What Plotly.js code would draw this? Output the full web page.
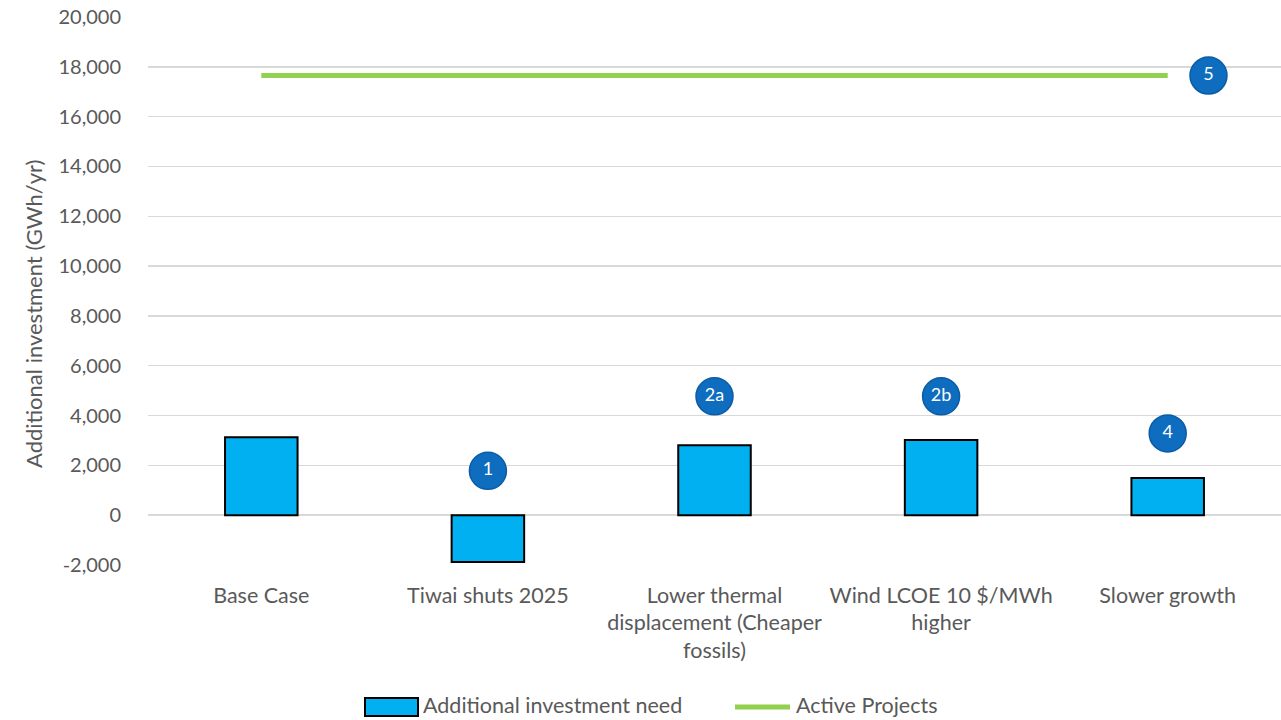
<!DOCTYPE html>
<html>
<head>
<meta charset="utf-8">
<script src="https://cdn.plot.ly/plotly-3.0.1.min.js"></script>
<style>
  html, body { margin: 0; padding: 0; background: #ffffff; }
  #chart { width: 1281px; height: 720px; }
</style>
</head>
<body>
<div id="chart"></div>
<script>
// Scenario categories (x positions 0..4)
const categories = [
  "Base Case",
  "Tiwai shuts 2025",
  "Lower thermal<br>displacement (Cheaper<br>fossils)",
  "Wind LCOE 10 $/MWh<br>higher",
  "Slower growth"
];
const categoryIndex = [0, 1, 2, 3, 4];

// Additional investment need per scenario (GWh/yr)
const investmentNeed = [3130, -1880, 2810, 3020, 1490];

// Active projects pipeline (GWh/yr)
const activeProjects = [17650, 17650, 17650, 17650, 17650];

// Numbered scenario badges
const badgeLabels = ["1", "2a", "2b", "4", "5"];
const badgeX = [1, 2, 3, 4, 4.18];
const badgeY = [1780, 4770, 4770, 3280, 17650];

// Y-axis ticks
const yTicks = [-2000, 0, 2000, 4000, 6000, 8000, 10000, 12000, 14000, 16000, 18000, 20000];
const yTickText = ["-2,000", "0", "2,000", "4,000", "6,000", "8,000", "10,000", "12,000", "14,000", "16,000", "18,000", "20,000"];

const fontFamily = "Lato, 'Open Sans', sans-serif";
const textGrey = "#595959";
const barFill = "#00B0F0";
const lineGreen = "#92D050";

const barTrace = {
  type: "bar",
  name: "Additional investment need",
  x: categoryIndex,
  y: investmentNeed,
  width: 0.32,
  marker: { color: barFill, line: { color: "#000000", width: 2 } },
  showlegend: false,
  hoverinfo: "y"
};
const lineTrace = {
  type: "scatter",
  mode: "lines",
  name: "Active Projects",
  x: categoryIndex,
  y: activeProjects,
  line: { color: lineGreen, width: 5 },
  showlegend: false,
  hoverinfo: "y"
};
const badgeTrace = {
  type: "scatter",
  mode: "markers+text",
  x: badgeX,
  y: badgeY,
  text: badgeLabels,
  textposition: "middle center",
  textfont: { color: "#ffffff", size: 18, family: fontFamily },
  marker: { size: 37, color: "#0E6DBE", line: { color: "#0A5CA6", width: 1.5 } },
  showlegend: false,
  hoverinfo: "skip"
};

// Plot area in pixels, used to place the legend below it
const plotLeft = 148, plotWidth = 1133, plotTop = 17, plotHeight = 548;
const px = (x) => (x - plotLeft) / plotWidth;
const py = (y) => (plotTop + plotHeight - y) / plotHeight;

// Legend drawn as shapes + text underneath the plot
const legendShapes = [
  {
    type: "rect", xref: "paper", yref: "paper",
    x0: px(365), x1: px(418), y0: py(698), y1: py(716),
    fillcolor: barFill, line: { color: "#000000", width: 2 }
  },
  {
    type: "line", xref: "paper", yref: "paper",
    x0: px(735), x1: px(790), y0: py(707), y1: py(707),
    line: { color: lineGreen, width: 5 }
  }
];
const legendLabels = [
  { text: barTrace.name, x: px(421), y: py(705) },
  { text: lineTrace.name, x: px(794), y: py(705) }
].map(l => ({
  xref: "paper", yref: "paper", x: l.x, y: l.y,
  xanchor: "left", yanchor: "middle", showarrow: false,
  text: l.text, font: { size: 21.5, color: textGrey, family: fontFamily }
}));

const yTitle = {
  xref: "paper", yref: "paper", x: px(33), y: py(314),
  xanchor: "center", yanchor: "middle", showarrow: false, textangle: -90,
  text: "Additional investment (GWh/yr)",
  font: { size: 22, color: textGrey, family: fontFamily }
};

const layout = {
  width: 1281,
  height: 720,
  margin: { l: plotLeft, r: 0, t: plotTop, b: 720 - plotTop - plotHeight },
  paper_bgcolor: "#ffffff",
  plot_bgcolor: "#ffffff",
  font: { family: fontFamily, color: textGrey, size: 21 },
  showlegend: false,
  xaxis: {
    type: "linear",
    range: [-0.5, 4.5],
    tickvals: categoryIndex,
    ticktext: categories,
    showgrid: false,
    zeroline: false,
    showline: false,
    ticks: "",
    ticklabelstandoff: 15,
    tickfont: { size: 21.5, color: textGrey },
    fixedrange: true
  },
  yaxis: {
    range: [-2000, 20000],
    tickvals: yTicks,
    ticktext: yTickText,
    showgrid: true,
    gridcolor: "#D9D9D9",
    gridwidth: 1.5,
    zeroline: true,
    zerolinecolor: "#D9D9D9",
    zerolinewidth: 1.5,
    showline: false,
    ticks: "",
    ticklabelstandoff: 26,
    tickfont: { size: 20, color: textGrey },
    fixedrange: true
  },
  shapes: legendShapes,
  annotations: legendLabels.concat([yTitle])
};

Plotly.newPlot("chart", [barTrace, lineTrace, badgeTrace], layout, { displayModeBar: false, staticPlot: true });
</script>
</body>
</html>
